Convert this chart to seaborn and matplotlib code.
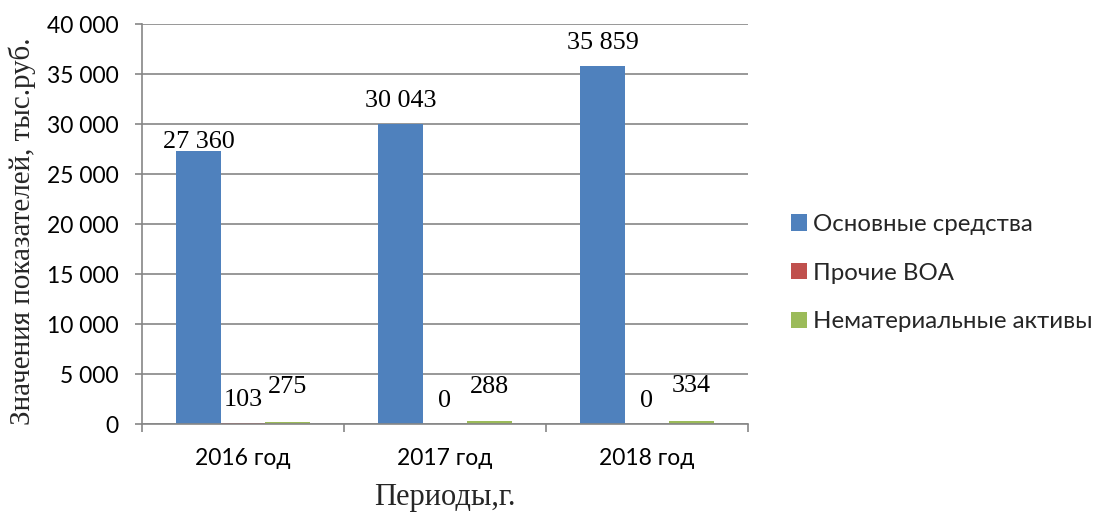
import matplotlib
matplotlib.use("Agg")
import matplotlib.pyplot as plt
import matplotlib.ticker as mticker
import pandas as pd
import seaborn as sns

# Data (тыс. руб.)
periods = ["2016 год", "2017 год", "2018 год"]
series_names = ["Основные средства", "Прочие ВОА", "Нематериальные активы"]
fixed_assets = [27360, 30043, 35859]
other_noncurrent = [103, 0, 0]
intangibles = [275, 288, 334]
y_ticks = [0, 5000, 10000, 15000, 20000, 25000, 30000, 35000, 40000]

colors = ["#4F81BD", "#C0504D", "#9BBB59"]

df = pd.DataFrame({
    "period": periods * 3,
    "series": [s for s in series_names for _ in periods],
    "value": fixed_assets + other_noncurrent + intangibles,
})

sns.set_theme(style="white")
plt.rcParams["font.family"] = ["Lato", "DejaVu Sans"]

W, H = 1098, 516
fig = plt.figure(figsize=(W / 100, H / 100), dpi=100)
ax = fig.add_axes([142 / W, 1 - 424.3 / H, (748 - 142) / W, 400 / H])

sns.barplot(data=df, x="period", y="value", hue="series", order=periods,
            hue_order=series_names, palette=colors, saturation=1,
            width=0.66, errorbar=None, ax=ax, legend=True, linewidth=0)

grid_color = "#868686"
ax.set_ylim(0, 40000)
ax.set_xlim(-0.5, 2.5)
ax.set_yticks(y_ticks)
ax.yaxis.set_major_formatter(mticker.FuncFormatter(lambda v, p: f"{int(v):,}".replace(",", " ")))
ax.yaxis.grid(True, color=grid_color, linewidth=1.2)
ax.set_axisbelow(True)

for side in ["top", "right"]:
    ax.spines[side].set_visible(False)
for side in ["left", "bottom"]:
    ax.spines[side].set_color(grid_color)
    ax.spines[side].set_linewidth(1.2)

ax.tick_params(axis="y", which="major", length=5, width=1.2, color=grid_color,
               direction="out", left=True, pad=12, labelsize=16.5)
ax.tick_params(axis="x", which="major", length=0, pad=17, labelsize=16.5)
ax.set_xticks([-0.5, 0.5, 1.5, 2.5], minor=True)
ax.tick_params(axis="x", which="minor", length=6, width=1.2, color=grid_color,
               direction="out", bottom=True)
for lbl in ax.get_xticklabels() + ax.get_yticklabels():
    lbl.set_color("black")

serif = ["Liberation Serif", "DejaVu Serif"]
ax.set_ylabel("Значения показателей, тыс.руб.", family=serif, fontsize=21)
ax.yaxis.set_label_coords((22 - 142) / (748 - 142), (424.3 - 231) / 400)
ax.set_xlabel("Периоды,г.", family=serif, fontsize=22)
ax.xaxis.set_label_coords(0.5, (424.3 - 497) / 400)
ax.xaxis.label.set_va("center")
ax.yaxis.label.set_va("center")

# value labels above bars
label_offsets = [[2.2, 12.3, 12.3], [12.3, 12.3, 12.3], [20.5, 20.5, 20.5]]
values = [fixed_assets, other_noncurrent, intangibles]
for k, cont in enumerate(ax.containers):
    for j, bar in enumerate(cont.patches):
        v = values[k][j]
        ax.annotate(f"{v:,}".replace(",", " "),
                    xy=(bar.get_x() + bar.get_width() / 2, bar.get_height()),
                    xytext=(0, label_offsets[k][j]), textcoords="offset points",
                    ha="center", va="baseline", family=serif, fontsize=18.8,
                    color="black")

leg = ax.legend(loc="center left", bbox_to_anchor=(791 / W, 1 - 273 / H),
                bbox_transform=fig.transFigure, frameon=False, fontsize=17.3,
                handlelength=0.67, handleheight=0.67, handletextpad=0.25,
                labelspacing=1.15, borderpad=0, borderaxespad=0)

fig.savefig("out.png", dpi=100)
